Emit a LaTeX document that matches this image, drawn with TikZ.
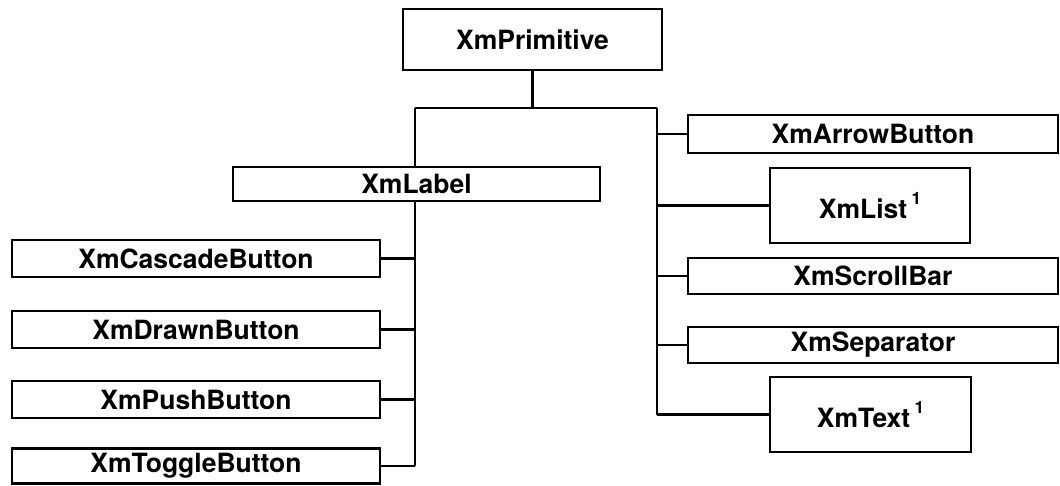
\documentclass[tikz,border=0pt]{standalone}
\usepackage{fontspec}
\setmainfont{TeX Gyre Heros}
\newcommand{\supone}{\,\raisebox{0.5em}{\fontsize{17}{17}\selectfont 1}}
\begin{document}
\begin{tikzpicture}[x=1pt,y=-1pt,
  cls/.style={draw=black, line width=2.8pt, fill=white, inner sep=0pt,
    font=\fontsize{26.5}{30}\selectfont\bfseries},
  link/.style={draw=black, line width=2.6pt}]
\useasboundingbox (0,0) rectangle (1060,485);
% boxes
\node[cls, minimum width=259pt, minimum height=61pt] (prim) at (532.5,39.5) {XmPrimitive};
\node[cls, minimum width=367pt, minimum height=34pt] (label) at (416.5,184) {XmLabel};
\node[cls, minimum width=368pt, minimum height=37pt] (cascade) at (196,258.5) {XmCascadeButton};
\node[cls, minimum width=368pt, minimum height=37pt] (drawn) at (196,329.5) {XmDrawnButton};
\node[cls, minimum width=368pt, minimum height=37pt] (push) at (196,399.5) {XmPushButton};
\node[cls, minimum width=368pt, minimum height=35pt] (toggle) at (196,466) {XmToggleButton};
\node[cls, minimum width=370pt, minimum height=38pt] (arrow) at (873,134) {XmArrowButton};
\node[cls, minimum width=200pt, minimum height=75pt] (list) at (870,205.5) {XmList\supone};
\node[cls, minimum width=370pt, minimum height=36pt] (scroll) at (873,276) {XmScrollBar};
\node[cls, minimum width=370pt, minimum height=36pt] (sep) at (873,345) {XmSeparator};
\node[cls, minimum width=201pt, minimum height=75pt] (text) at (870.5,414.5) {XmText\supone};
% bus coordinates
\coordinate (junc) at (532.5,108);
\coordinate (ltop) at (415,108);
\coordinate (rtop) at (657,108);
\coordinate (lbot) at (toggle.east -| ltop);
\coordinate (rbot) at (text.west -| rtop);
% connectors
\draw[link] (prim.south) -- (junc);
\draw[link] (ltop) -- (rtop);
\draw[link] (ltop) -- (ltop |- label.north);
\draw[link] (ltop |- label.south) -- (lbot);
\draw[link] (rtop) -- (rbot);
\draw[link] (cascade.east) -- (cascade.east -| lbot);
\draw[link] (drawn.east) -- (drawn.east -| lbot);
\draw[link] (push.east) -- (push.east -| lbot);
\draw[link] (toggle.east) -- (lbot);
\draw[link] (arrow.west) -- (arrow.west -| rbot);
\draw[link] (list.west) -- (list.west -| rbot);
\draw[link] (scroll.west) -- (scroll.west -| rbot);
\draw[link] (sep.west) -- (sep.west -| rbot);
\draw[link] (text.west) -- (rbot);
\end{tikzpicture}
\end{document}
